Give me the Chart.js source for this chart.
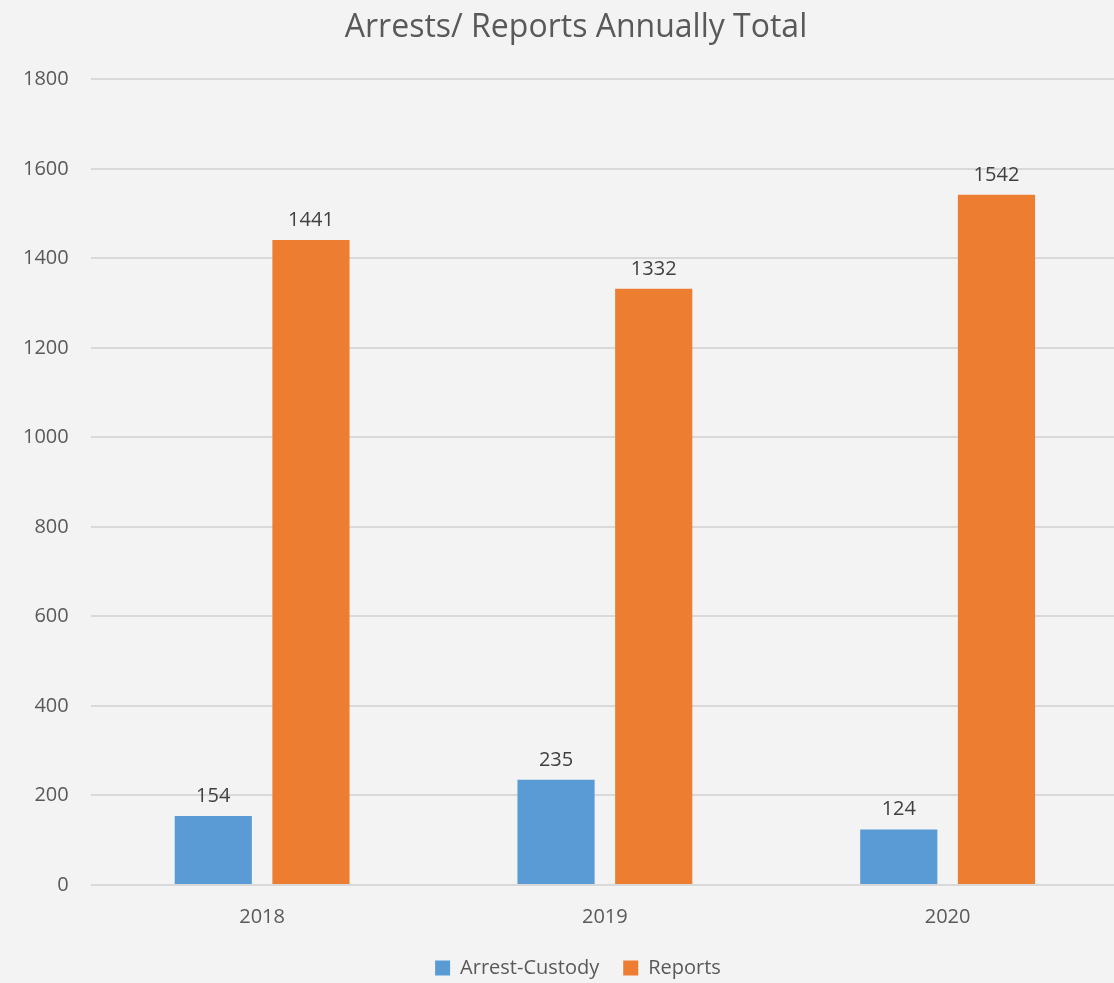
<!DOCTYPE html>
<html>
<head>
<meta charset="utf-8">
<script src="https://cdn.jsdelivr.net/npm/chart.js@4"></script>
<style>
  body { margin: 0; background: #f3f3f3; overflow: hidden; }
  #wrap { width: 1114px; height: 983px; overflow: hidden; }
</style>
</head>
<body>
<div id="wrap"><canvas id="arrestsChart" width="1152" height="983"></canvas></div>
<script>
const years = ["2018", "2019", "2020"];
const arrestCustody = [154, 235, 124];
const reports = [1441, 1332, 1542];
const yTicks = [0, 200, 400, 600, 800, 1000, 1200, 1400, 1600, 1800];

// draws the value above each bar, Excel style
const barLabels = {
    id: 'barLabels',
    afterDatasetsDraw(chart) {
        const ctx = chart.ctx;
        ctx.save();
        ctx.font = '20px "Open Sans"';
        ctx.fillStyle = '#404040';
        ctx.textAlign = 'center';
        ctx.textBaseline = 'bottom';
        chart.data.datasets.forEach((ds, i) => {
            chart.getDatasetMeta(i).data.forEach((bar, j) => {
                ctx.fillText(ds.data[j], bar.x, bar.y - 10);
            });
        });
        ctx.restore();
    }
};

const bgFill = {
    id: 'bgFill',
    beforeDraw(chart) {
        const ctx = chart.ctx;
        ctx.save();
        ctx.fillStyle = '#f3f3f3';
        ctx.fillRect(0, 0, chart.width, chart.height);
        ctx.restore();
    }
};

// legend sits closer to the bottom, title + legend centred on the full canvas
const boxNudge = {
    id: 'boxNudge',
    afterLayout(chart) {
        chart.legend.top += 5;
        chart.legend.bottom += 5;
        chart.legend.left += 18;
        chart.legend.right += 18;
        chart.titleBlock.left += 16;
        chart.titleBlock.right += 16;
    }
};

Chart.defaults.font.family = '"Open Sans", sans-serif';
Chart.defaults.color = '#595959';

new Chart(document.getElementById('arrestsChart'), {
    type: 'bar',
    data: {
        labels: years,
        datasets: [{
            label: 'Arrest-Custody',
            data: arrestCustody,
            backgroundColor: '#5B9BD5'
        }, {
            label: 'Reports',
            data: reports,
            backgroundColor: '#ED7D31'
        }]
    },
    options: {
        responsive: false,
        animation: false,
        categoryPercentage: 0.57,
        barPercentage: 0.79,
        layout: { padding: { left: 1, right: 33, top: 9, bottom: 0 } },
        plugins: {
            title: {
                display: true,
                text: 'Arrests/ Reports Annually Total',
                font: { size: 32, weight: 'normal' },
                color: '#595959',
                padding: { top: 0, bottom: 32 }
            },
            legend: {
                position: 'bottom',
                labels: { boxWidth: 15, boxHeight: 15, font: { size: 20 }, padding: 24 }
            },
            tooltip: { enabled: false }
        },
        scales: {
            x: {
                grid: { display: false },
                border: { display: false },
                ticks: { font: { size: 20 }, padding: 12 },
                afterFit(axis) {
                    axis.height -= 12;
                }
            },
            y: {
                min: 0,
                max: 1800,
                afterBuildTicks(axis) {
                    axis.ticks = yTicks.map(v => ({ value: v }));
                },
                grid: { color: '#d9d9d9', lineWidth: 2, drawTicks: false },
                border: { display: false },
                ticks: {
                    font: { size: 20 },
                    padding: 22,
                    callback: (v) => String(v)
                }
            }
        }
    },
    plugins: [bgFill, boxNudge, barLabels]
});
</script>
</body>
</html>
